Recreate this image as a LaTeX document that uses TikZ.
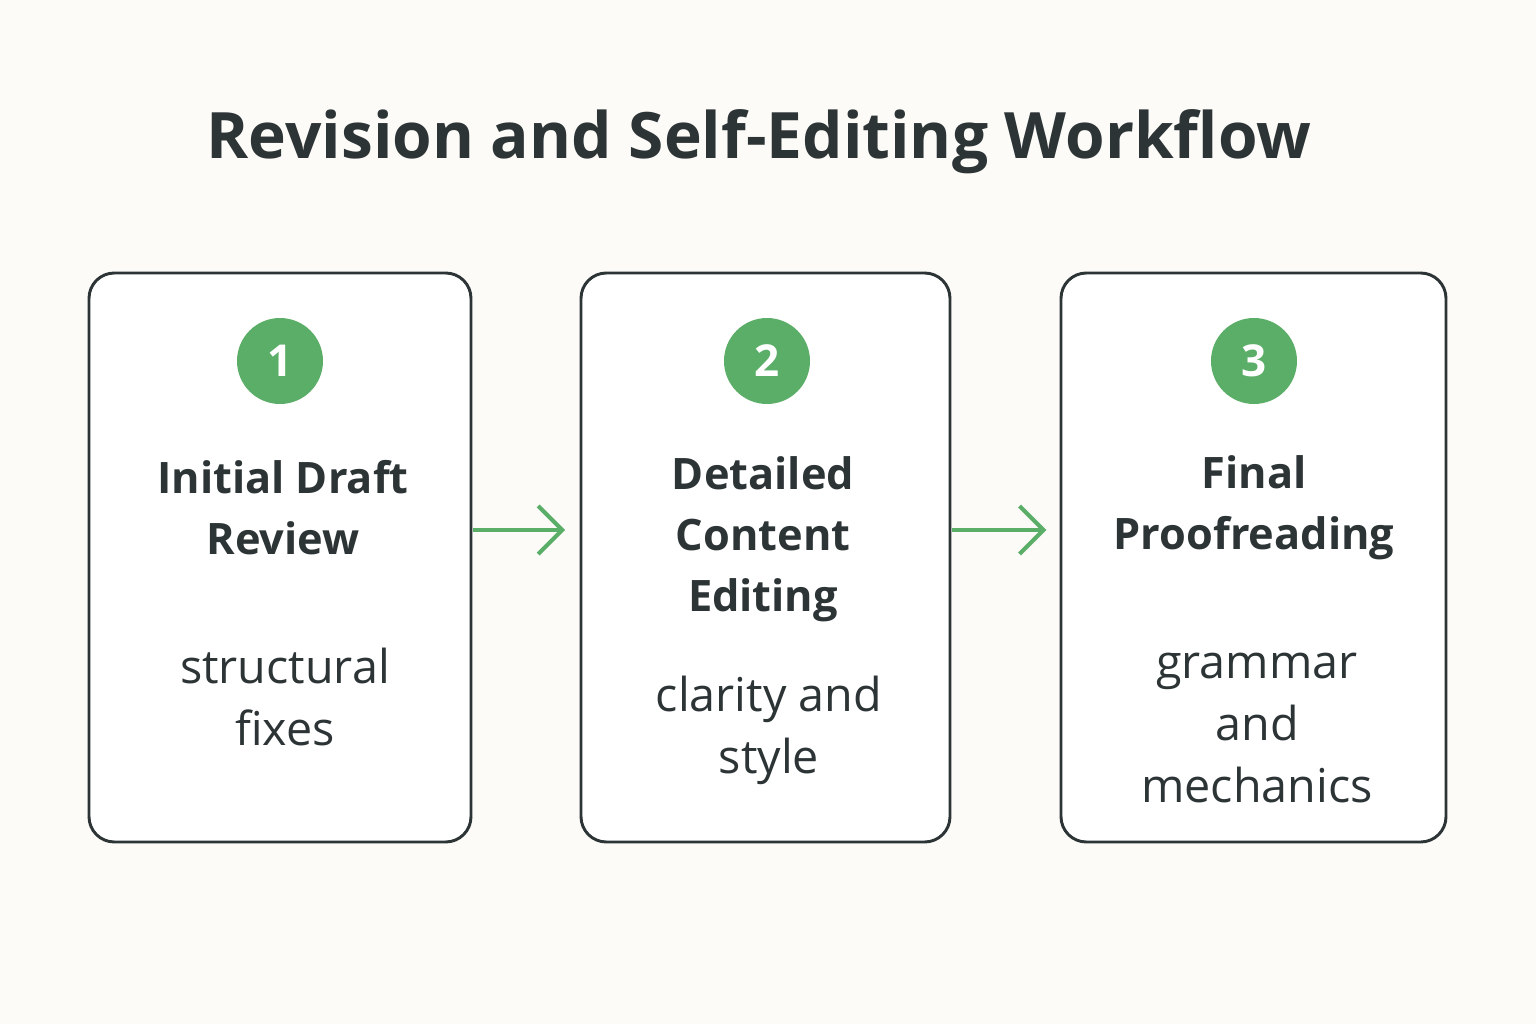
\documentclass[tikz,border=0pt]{standalone}
\usepackage{fontspec}
\setmainfont{Open Sans}
\usetikzlibrary{arrows.meta}
\definecolor{bg}{HTML}{FCFBF8}
\definecolor{ink}{HTML}{2D3436}
\definecolor{grn}{HTML}{5BAE67}
\tikzset{
 x=0.75pt,y=-0.75pt,
 card/.style={draw=ink,line width=2.2pt,rounded corners=19pt,fill=white},
 badge/.style={circle,fill=grn,minimum size=64.5pt,inner sep=0pt,text=white,font=\fontsize{33}{33}\selectfont\bfseries},
 ttl/.style={align=center,text=ink,font=\fontsize{32.5}{45.75}\selectfont\bfseries},
 sub/.style={align=center,text=ink,font=\fontsize{35}{46.5}\selectfont},
 flow/.style={draw=grn,line width=3pt,-{Straight Barb[length=18pt,width=36pt,line width=3pt]}},
}
\begin{document}
\begin{tikzpicture}
\fill[bg] (0,0) rectangle (1536,1024);
\useasboundingbox (0,0) rectangle (1536,1024);
\node[text=ink,font=\fontsize{48}{48}\selectfont\bfseries] (title) at (759,142) {Revision and Self-Editing Workflow};
\draw[card] (89,273) rectangle (471,842);
\draw[card] (581,273) rectangle (950,842);
\draw[card] (1061,273) rectangle (1446,842);
\coordinate (c1) at (473,530); \coordinate (c2) at (581,530);
\coordinate (c3) at (952,530); \coordinate (c4) at (1061,530);
\node[badge] (b1) at (280,361) {1};
\node[badge] (b2) at (767,361) {2};
\node[badge] (b3) at (1254,361) {3};
\node[ttl] (t1) at (283,508) {Initial Draft\\Review};
\node[ttl] (t2) at (763,539) {Detailed\\Content\\Editing};
\node[ttl] (t3) at (1254,508) {Final\\Proofreading};
\node[sub] (s1) at (285,697) {structural\\fixes};
\node[sub] (s2) at (769,730) {clarity and\\style};
\node[sub] (s3) at (1257,728) {grammar\\and\\mechanics};
\draw[flow] (c1) -- ([xshift=-12]c2);
\draw[flow] (c3) -- ([xshift=-11]c4);
\end{tikzpicture}
\end{document}
